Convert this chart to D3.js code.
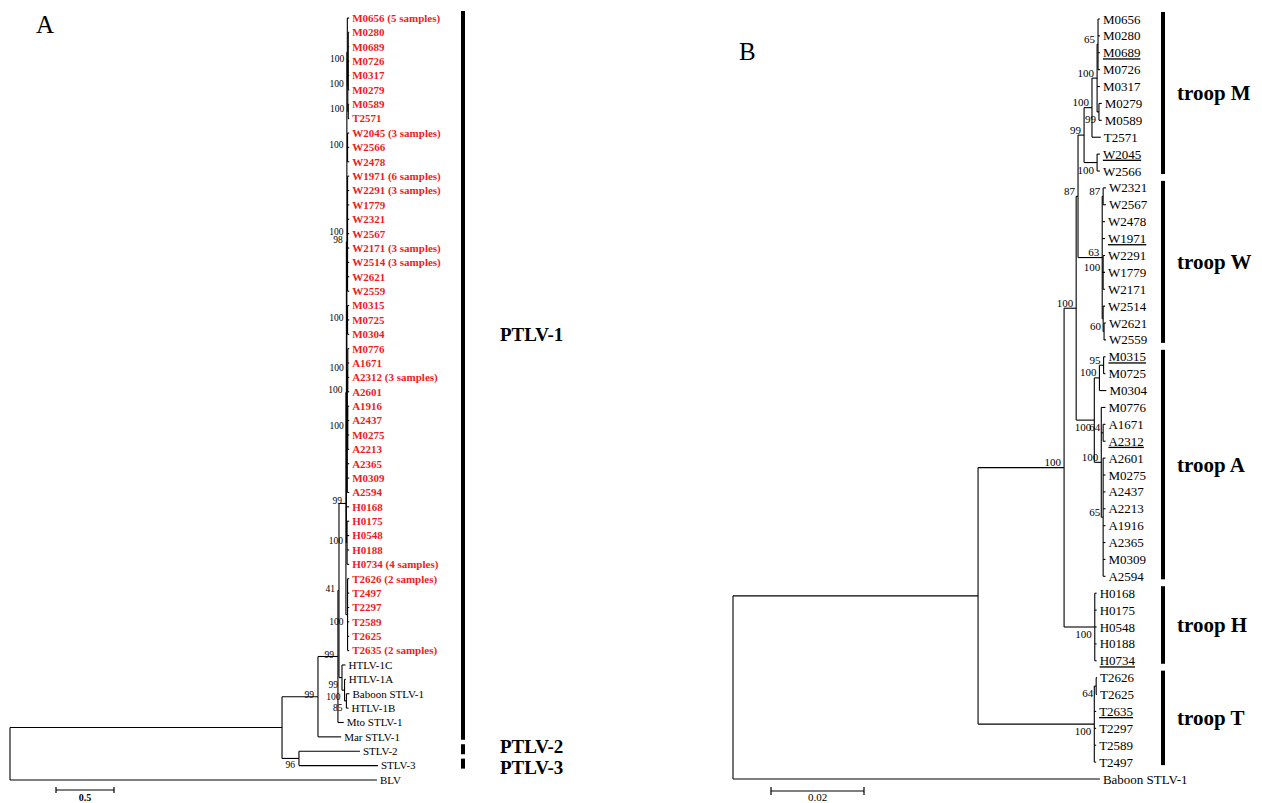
<!DOCTYPE html>
<head>
  <meta charset="utf-8">
  <script src="https://d3js.org/d3.v7.min.js"></script>
  <style>
    body { margin: 0; background: #fff; }
    svg { font-family: "Liberation Serif", "Times New Roman", serif; }
    .branch { fill: none; stroke: #000; stroke-width: 1.1px; }
    .bar { stroke: #000; stroke-width: 4px; }
    .scale { fill: none; stroke: #000; stroke-width: 1.2px; }
  </style>
</head>
<body>
<script>
// edge tables: [node, parent, branch length, bootstrap]
function kids(parent, len, names) {
  return names.map(function(n) { return [n, parent, len, null]; });
}

var treeA = [
  ["rootA", null, 0, null],
  ["n282", "rootA", 2.345, null],
  ["n318", "n282", 0.31, 99],
  ["P", "n318", 0.172, 99],
  ["Q", "P", 0.009, 41],
  ["U", "Q", 0.06, 99],
  ["V", "U", 0.004, 100],
  ["X", "V", 0.004, 98],
  ["mM", "X", 0.004, null],
  ["M0656 (5 samples)", "mM", 0.016, null],
  ["m2", "mM", 0.004, 100],
  ["m1", "m2", 0.004, 100]]
  .concat(kids("m1", 0.008, ["M0280", "M0689", "M0726", "M0317", "M0279"]))
  .concat([["m3", "m2", 0.004, 100]])
  .concat(kids("m3", 0.008, ["M0589", "T2571"]))
  .concat([["w1", "X", 0.006, 100]])
  .concat(kids("w1", 0.014, ["W2045 (3 samples)", "W2566", "W2478"]))
  .concat([["w2", "X", 0.006, 100]])
  .concat(kids("w2", 0.014, ["W1971 (6 samples)", "W2291 (3 samples)", "W1779", "W2321", "W2567",
                             "W2171 (3 samples)", "W2514 (3 samples)", "W2621", "W2559"]))
  .concat([["a1", "X", 0.006, 100]])
  .concat(kids("a1", 0.014, ["M0315", "M0725", "M0304"]))
  .concat([["aA", "X", 0.004, null], ["a2", "aA", 0.004, 100]])
  .concat(kids("a2", 0.012, ["M0776", "A1671", "A2312 (3 samples)", "A2601"]))
  .concat([["a3", "aA", 0.004, 100]])
  .concat(kids("a3", 0.012, ["A1916", "A2437", "M0275", "A2213"]))
  .concat(kids("aA", 0.016, ["A2365", "M0309", "A2594"]))
  .concat([["H0168", "V", 0.024, null], ["Hc", "V", 0.006, 100]])
  .concat(kids("Hc", 0.018, ["H0175", "H0548", "H0188", "H0734 (4 samples)"]))
  .concat([["Tc", "U", 0.014, 100]])
  .concat(kids("Tc", 0.014, ["T2626 (2 samples)", "T2497", "T2297", "T2589", "T2625", "T2635 (2 samples)"]))
  .concat([
  ["R", "Q", 0.026, 99],
  ["HTLV-1C", "R", 0.03, null],
  ["S", "R", 0.022, 100],
  ["HTLV-1A", "S", 0.01, null],
  ["T2", "S", 0.016, 85],
  ["Baboon STLV-1", "T2", 0.026, null],
  ["HTLV-1B", "T2", 0.018, null],
  ["Mto STLV-1", "P", 0.05, null],
  ["Mar STLV-1", "n318", 0.2, null],
  ["S23", "n282", 0.146, 96],
  ["STLV-2", "S23", 0.526, null],
  ["STLV-3", "S23", 0.681, null],
  ["BLV", "rootA", 3.164, null]]);

var treeB = [
  ["rootB", null, 0, null],
  ["n978", "rootB", 0.0527, null],
  ["n1064", "n978", 0.0185, 100],
  ["n1076", "n1064", 0.0026, 100],
  ["n1078", "n1076", 0.0004, 87],
  ["n1084", "n1078", 0.0013, 99],
  ["n1092", "n1084", 0.0017, 100],
  ["nA", "n1092", 0.0011, 100],
  ["n65", "nA", 0.0002, 65]]
  .concat(kids("n65", 0.0004, ["M0656", "M0280", "M0689", "M0726"]))
  .concat([["M0317", "nA", 0.0006, null], ["pM", "nA", 0.0004, 99]])
  .concat(kids("pM", 0.0006, ["M0279", "M0589"]))
  .concat([["T2571", "n1092", 0.0019, null], ["Wp", "n1084", 0.0028, 100]])
  .concat(kids("Wp", 0.0006, ["W2045", "W2566"]))
  .concat([["W63", "n1078", 0.0052, 63], ["W87", "W63", 0.0002, 87]])
  .concat(kids("W87", 0.0006, ["W2321", "W2567"]))
  .concat(kids("W63", 0.0006, ["W2478", "W1971"]))
  .concat([["W100", "W63", 0.0002, 100]])
  .concat(kids("W100", 0.0004, ["W2291", "W1779", "W2171"]))
  .concat([["Wl", "W63", 0.0002, null], ["W2514", "Wl", 0.0004, null], ["W60", "Wl", 0.0002, 60]])
  .concat(kids("W60", 0.0004, ["W2621", "W2559"]))
  .concat([["n1094", "n1076", 0.0039, 100], ["Ms", "n1094", 0.0011, 100], ["M95", "Ms", 0.0009, 95]])
  .concat(kids("M95", 0.0004, ["M0315", "M0725"]))
  .concat([["M0304", "Ms", 0.0015, null], ["As", "n1094", 0.0015, 100],
           ["M0776", "As", 0.0009, null], ["A64", "As", 0.0004, 64]])
  .concat(kids("A64", 0.0005, ["A1671", "A2312"]))
  .concat([["A65", "As", 0.0004, 65]])
  .concat(kids("A65", 0.0005, ["A2601", "M0275", "A2437", "A2213", "A1916", "A2365", "M0309", "A2594"]))
  .concat([["Hc", "n1064", 0.0066, 100]])
  .concat(kids("Hc", 0.0004, ["H0168", "H0175", "H0548", "H0188", "H0734"]))
  .concat([["Tc", "n978", 0.025, 100], ["T64", "Tc", 0.0004, 64]])
  .concat(kids("T64", 0.0002, ["T2626", "T2625"]))
  .concat(kids("Tc", 0.0004, ["T2635", "T2297", "T2589", "T2497"]))
  .concat([["Baboon STLV-1", "rootB", 0.0789, null]]);

// clade bars: [label, first leaf, last leaf, (label centred between these leaves)]
var groupsA = [
  ["PTLV-1", "M0656 (5 samples)", "Mar STLV-1", "M0656 (5 samples)", "T2635 (2 samples)"],
  ["PTLV-2", "STLV-2", "STLV-2"],
  ["PTLV-3", "STLV-3", "STLV-3"]
];
var groupsB = [
  ["troop M", "M0656", "W2566"],
  ["troop W", "W2321", "W2559"],
  ["troop A", "M0315", "A2594"],
  ["troop H", "H0168", "H0734"],
  ["troop T", "T2626", "T2497"]
];

var belowA = ["S23", "R", "S", "T2", "Tc"];
var belowB = ["pM", "Wp", "n1094", "Hc", "Tc", "T64"];
var underlinedB = ["M0689", "W2045", "W1971", "M0315", "A2312", "H0734", "T2635"];

var svg = d3.select("body").append("svg")
  .attr("width", 1262)
  .attr("height", 803);

function drawTree(rows, o) {
  var root = d3.stratify()
    .id(function(d) { return d[0]; })
    .parentId(function(d) { return d[1]; })(rows);

  root.eachBefore(function(n) {
    n.len = (n.parent ? n.parent.len : 0) + n.data[2];
  });

  var leaves = root.leaves();
  var y = d3.scalePoint()
    .domain(leaves.map(function(d) { return d.id; }))
    .range(o.yRange);

  root.eachAfter(function(n) {
    if (n.children) {
      n.y = (n.children[0].y + n.children[n.children.length - 1].y) / 2;
    } else {
      n.y = y(n.id);
    }
  });

  var x = o.x;
  var hl = {};
  if (o.highlight) {
    root.find(function(n) { return n.id === o.highlight; })
      .leaves().forEach(function(l) { hl[l.id] = true; });
  }

  var g = svg.append("g");

  g.selectAll("path.h")
    .data(root.descendants().filter(function(n) { return n.parent; }))
    .join("path")
    .attr("class", "branch h")
    .attr("d", function(n) { return "M" + x(n.parent.len) + "," + n.y + "H" + x(n.len); });

  g.selectAll("path.v")
    .data(root.descendants().filter(function(n) { return n.children; }))
    .join("path")
    .attr("class", "branch v")
    .attr("d", function(n) {
      return "M" + x(n.len) + "," + n.children[0].y + "V" + n.children[n.children.length - 1].y;
    });

  g.selectAll("text.tip")
    .data(leaves)
    .join("text")
    .attr("class", "tip")
    .attr("x", function(n) { return x(n.len) + o.tipGap; })
    .attr("y", function(n) { return n.y; })
    .attr("dy", "0.35em")
    .style("font-size", o.tipSize)
    .style("font-weight", function(n) { return hl[n.id] ? "bold" : null; })
    .style("fill", function(n) { return hl[n.id] ? "#f01c1c" : "#000"; })
    .style("text-decoration", function(n) { return o.underline && o.underline.indexOf(n.id) >= 0 ? "underline" : null; })
    .text(function(n) { return n.id; });

  g.selectAll("text.sup")
    .data(root.descendants().filter(function(n) { return n.data[3] != null; }))
    .join("text")
    .attr("class", "sup")
    .attr("text-anchor", "end")
    .attr("x", function(n) { return x(n.len) - o.supGap; })
    .attr("y", function(n) { return n.y + (o.below.indexOf(n.id) >= 0 ? o.belowDy : o.aboveDy); })
    .style("font-size", o.supSize)
    .text(function(n) { return n.data[3]; });

  // clade bars
  var labels = o.groups.map(function(gr) {
    var y0 = y(gr[1]) - 7, y1 = y(gr[2]) + 3;
    g.append("line").attr("class", "bar")
      .attr("x1", o.barX).attr("x2", o.barX)
      .attr("y1", y0).attr("y2", y1);
    return { text: gr[0], y: gr[3] ? (y(gr[3]) + y(gr[4])) / 2 : (y0 + y1) / 2 };
  });
  // push apart labels of neighbouring short bars
  for (var i = 1; i < labels.length; i++) {
    var gap = labels[i].y - labels[i - 1].y;
    if (gap < o.groupMinGap) {
      var d = (o.groupMinGap - gap) / 2;
      labels[i - 1].y -= d;
      labels[i].y += d;
    }
  }
  g.selectAll("text.grp")
    .data(labels)
    .join("text")
    .attr("class", "grp")
    .attr("x", o.groupX)
    .attr("y", function(d) { return d.y; })
    .attr("dy", "0.35em")
    .style("font-size", o.groupSize)
    .style("font-weight", "bold")
    .text(function(d) { return d.text; });

  // scale bar
  var sx = o.scale.x0, sw = x(o.scale.len) - x(0), sy = o.scale.y;
  g.append("path").attr("class", "scale")
    .attr("d", "M" + sx + "," + sy + "H" + (sx + sw) +
               "M" + sx + "," + (sy - o.scale.tick) + "V" + (sy + o.scale.tick) +
               "M" + (sx + sw) + "," + (sy - o.scale.tick) + "V" + (sy + o.scale.tick));
  g.append("text")
    .attr("x", sx + sw / 2)
    .attr("y", o.scale.ty)
    .attr("text-anchor", "middle")
    .style("font-size", o.scale.size)
    .style("font-weight", o.scale.bold ? "bold" : null)
    .text(o.scale.len);

  return g;
}

drawTree(treeA, {
  x: d3.scaleLinear().domain([0, 1]).range([10, 126]),
  yRange: [18, 780],
  highlight: "U",
  tipGap: 3, tipSize: "11px",
  supGap: 4, supSize: "9.5px", aboveDy: 1, belowDy: 10,
  below: belowA,
  groups: groupsA, barX: 463, groupX: 500, groupSize: "19px", groupMinGap: 21,
  scale: { len: 0.5, x0: 56, y: 790, tick: 3, ty: 801, size: "10px", bold: true }
});

drawTree(treeB, {
  x: d3.scaleLinear().domain([0, 0.02]).range([733, 826]),
  yRange: [19, 779],
  tipGap: 3, tipSize: "13px",
  supGap: 3, supSize: "11px", aboveDy: -1.5, belowDy: 11,
  below: belowB,
  underline: underlinedB,
  groups: groupsB, barX: 1163, groupX: 1177, groupSize: "21px", groupMinGap: 21,
  scale: { len: 0.02, x0: 771, y: 791, tick: 4, ty: 801, size: "11px", bold: false }
});

svg.append("text").attr("x", 36).attr("y", 33).style("font-size", "25px").text("A");
svg.append("text").attr("x", 739).attr("y", 60).style("font-size", "25px").text("B");
</script>
</body>
